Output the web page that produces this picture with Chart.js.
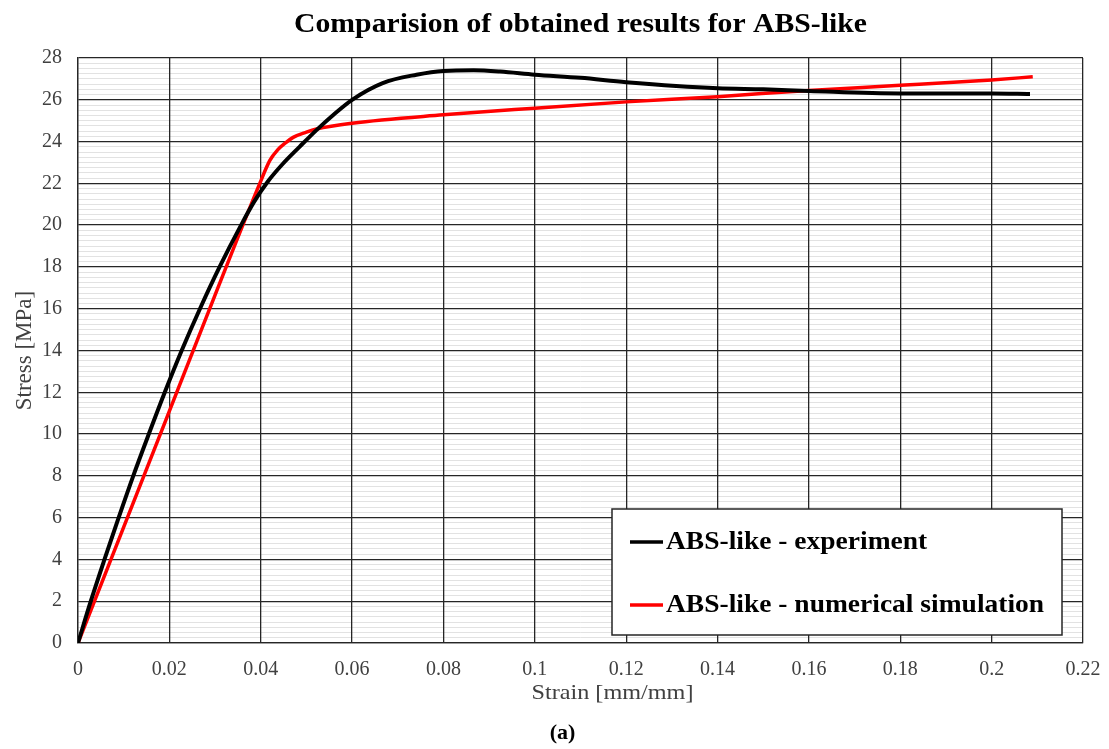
<!DOCTYPE html>
<html>
<head>
<meta charset="utf-8">
<script src="https://cdn.jsdelivr.net/npm/chart.js@4/dist/chart.umd.min.js"></script>
<style>
html, body { margin: 0; padding: 0; background: #fff; }
</style>
</head>
<body>
<canvas id="chart" width="1109" height="749"></canvas>
<script>
// experiment curve
const expStrain = [0, 0.0028, 0.0058, 0.0089, 0.0121, 0.0155, 0.019, 0.0227, 0.0267, 0.031, 0.0357, 0.0385, 0.0416, 0.0449, 0.0485, 0.0522, 0.056, 0.06, 0.0667, 0.0741, 0.08, 0.0866, 0.0924, 0.1, 0.11, 0.12, 0.14, 0.15, 0.16, 0.18, 0.2, 0.2084]
const expStress = [0, 2.0, 4.0, 6.0, 8.0, 10.0, 12.0, 14.0, 16.0, 18.0, 20.0, 21.1, 22.1, 22.95, 23.75, 24.55, 25.3, 26.0, 26.8, 27.2, 27.38, 27.41, 27.35, 27.2, 27.05, 26.84, 26.55, 26.5, 26.42, 26.3, 26.3, 26.28]

// numerical simulation curve
const simStrain = [0, 0.01, 0.02, 0.03, 0.0398, 0.042, 0.0437, 0.0455, 0.0471, 0.05, 0.0522, 0.06, 0.08, 0.1, 0.12, 0.14, 0.16, 0.18, 0.2, 0.209]
const simStress = [0, 5.55, 11.1, 16.65, 22.0, 23.1, 23.6, 23.95, 24.2, 24.45, 24.6, 24.88, 25.28, 25.6, 25.9, 26.15, 26.45, 26.69, 26.95, 27.1]

const seriesNames = ["ABS-like - experiment", "ABS-like - numerical simulation"]
const seriesColors = ["#000000", "#ff0000"]

const chartTitle = "Comparision of obtained results for ABS-like"
const xTitle = "Strain [mm/mm]"
const yTitle = "Stress [MPa]"
const caption = "(a)"

const serif = "'Liberation Serif', 'Times New Roman', serif"
const gridDark = "#262626"
const gridLight = "#e2e2e2"
const textGray = "#404040"

function toPoints(xs, ys) {
    let pts = []
    xs.forEach((x, i) => pts.push({x: x, y: ys[i]}))
    return pts
}

function isMajor(v) {
    return Math.abs(v / 2 - Math.round(v / 2)) < 1e-6
}

// text in the source picture is a bit wider than the fonts here
function wideText(ctx, text, x, y, sx) {
    ctx.save()
    ctx.translate(x, y)
    ctx.scale(sx, 1)
    ctx.fillText(text, 0, 0)
    ctx.restore()
}

const extras = {
    id: "extras",
    afterDraw(chart) {
        const ctx = chart.ctx
        const a = chart.chartArea
        const cx = (a.left + a.right) / 2
        ctx.save()
        ctx.textAlign = "center"
        ctx.textBaseline = "middle"

        // title
        ctx.fillStyle = "#000"
        ctx.font = "bold 27px " + serif
        wideText(ctx, chartTitle, cx, 25, 1.1)

        // x axis title
        ctx.fillStyle = textGray
        ctx.font = "22px " + serif
        wideText(ctx, xTitle, cx + 32, a.bottom + 50, 1.1)

        // caption
        ctx.fillStyle = "#000"
        ctx.font = "bold 22px " + serif
        ctx.fillText(caption, cx - 18, a.bottom + 90)

        // legend box
        const lx = a.right - 471, ly = a.bottom - 134, lw = 450, lh = 126
        ctx.fillStyle = "#fff"
        ctx.fillRect(lx, ly, lw, lh)
        ctx.strokeStyle = gridDark
        ctx.lineWidth = 1.5
        ctx.strokeRect(lx, ly, lw, lh)

        ctx.textAlign = "left"
        ctx.font = "bold 25px " + serif
        chart.data.datasets.forEach((ds, i) => {
            const y = ly + 33 + i * 63
            ctx.strokeStyle = ds.borderColor
            ctx.lineWidth = 3.5
            ctx.beginPath()
            ctx.moveTo(lx + 18, y)
            ctx.lineTo(lx + 51, y)
            ctx.stroke()
            ctx.fillStyle = "#000"
            wideText(ctx, ds.label, lx + 54, y + 1, 1.1)
        })
        ctx.restore()
    }
}

new Chart(document.querySelector("#chart"), {
    type: "line",
    data: {
        datasets: [{
            label: seriesNames[0],
            data: toPoints(expStrain, expStress),
            borderColor: seriesColors[0],
            borderWidth: 4,
            pointRadius: 0,
            cubicInterpolationMode: "monotone"
        }, {
            label: seriesNames[1],
            data: toPoints(simStrain, simStress),
            borderColor: seriesColors[1],
            borderWidth: 3.5,
            pointRadius: 0,
            cubicInterpolationMode: "monotone"
        }]
    },
    options: {
        responsive: false,
        animation: false,
        layout: { padding: { top: 58, right: 26, left: 0, bottom: 0 } },
        plugins: {
            legend: { display: false },
            title: { display: false },
            tooltip: { enabled: false }
        },
        scales: {
            x: {
                type: "linear",
                min: 0,
                max: 0.22,
                afterFit(s) {
                    s.height = 106
                    s.paddingLeft = 0
                    s.paddingRight = 0
                },
                border: { color: gridDark, width: 1.3 },
                grid: { z: -1, drawTicks: false, color: gridDark, lineWidth: 1.3 },
                ticks: {
                    stepSize: 0.02,
                    autoSkip: false,
                    maxRotation: 0,
                    padding: 15,
                    color: textGray,
                    font: { family: serif, size: 20 },
                    callback: v => String(+v.toFixed(2))
                }
            },
            y: {
                min: 0,
                max: 28,
                afterFit(s) {
                    s.width = 78
                    s.paddingTop = 0
                    s.paddingBottom = 0
                },
                border: { color: gridDark, width: 1.3 },
                grid: {
                    z: -2,
                    drawTicks: false,
                    color: c => (c.tick && isMajor(c.tick.value)) ? gridDark : gridLight,
                    lineWidth: c => (c.tick && isMajor(c.tick.value)) ? 1.3 : 1
                },
                ticks: {
                    stepSize: 0.25,
                    maxTicksLimit: 200,
                    autoSkip: false,
                    padding: 16,
                    color: textGray,
                    font: { family: serif, size: 20 },
                    callback: v => isMajor(v) ? String(Math.round(v)) : ""
                },
                title: {
                    display: true,
                    text: yTitle,
                    color: textGray,
                    font: { family: serif, size: 23 },
                    padding: { top: 11, bottom: 0 }
                }
            }
        }
    },
    plugins: [extras]
})
</script>
</body>
</html>
